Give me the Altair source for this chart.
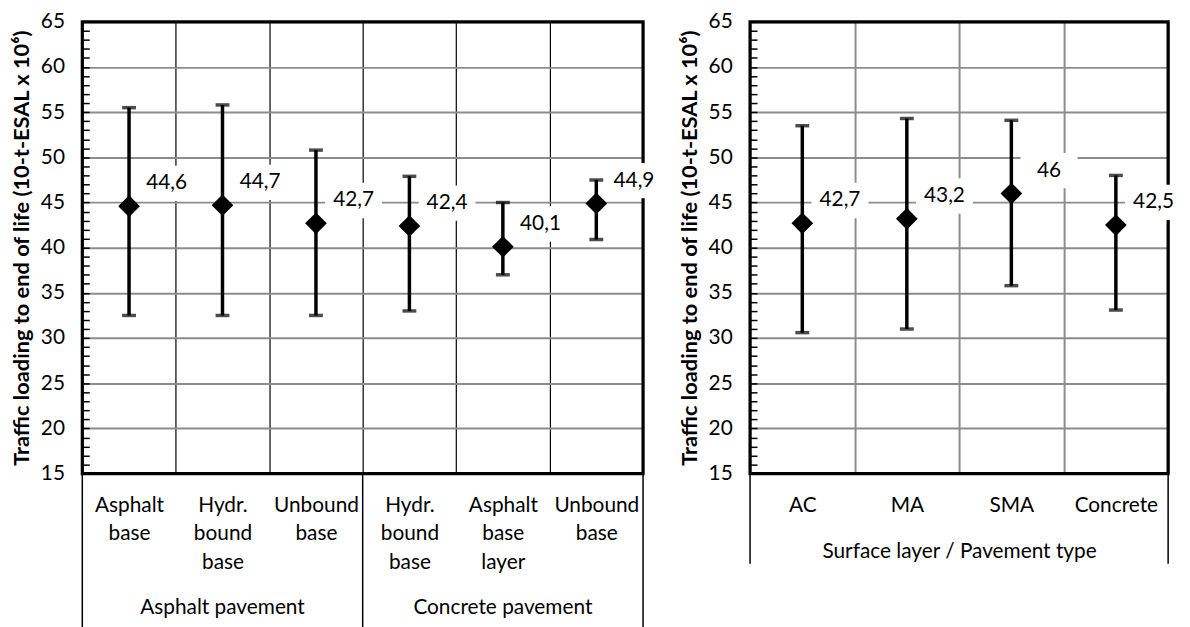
import altair as alt
import pandas as pd

FONT = "Lato"
FS = 21

# ---------------- data ----------------
left_groups = ["Asphalt pavement", "Asphalt pavement", "Asphalt pavement",
               "Concrete pavement", "Concrete pavement", "Concrete pavement"]
left_cats = ["Asphalt|base", "Hydr.|bound|base", "Unbound|base",
             "Hydr.|bound|base", "Asphalt|base|layer", "Unbound|base"]
left_mean = [44.6, 44.7, 42.7, 42.4, 40.1, 44.9]
left_low = [32.5, 32.5, 32.5, 33.0, 37.0, 40.9]
left_high = [55.5, 55.8, 50.8, 47.9, 45.0, 47.5]

right_cats = ["AC", "MA", "SMA", "Concrete"]
right_mean = [42.7, 43.2, 46.0, 42.5]
right_low = [30.6, 31.0, 35.8, 33.1]
right_high = [53.5, 54.3, 54.1, 48.0]

y_title = "Traffic loading to end of life  (10-t-ESAL x 10⁶)"
right_x_title = "Surface layer / Pavement type"
y_ticks = list(range(15, 66, 5))
y_minor = list(range(15, 66))

# ---------------- layout ----------------
H = 456
WL = 566
WR = 422
LABEL_DX = 38
LABEL_DY = -23

left_df = pd.DataFrame({"group": left_groups, "cat": left_cats,
                        "mean": left_mean, "low": left_low, "high": left_high})
left_df["key"] = left_df["group"] + "#" + left_df["cat"]
left_keys = list(left_df["key"])

right_df = pd.DataFrame({"cat": right_cats, "mean": right_mean,
                         "low": right_low, "high": right_high})
right_df["key"] = right_df["cat"]
right_keys = list(right_df["key"])

yscale = alt.Scale(domain=[15, 65], nice=False, zero=False)

main_y_axis = alt.Axis(values=y_ticks, title=y_title, titleFont=FONT, titleFontSize=22,
                       titleFontWeight="bold", titleColor="black", titlePadding=7,
                       labelFont=FONT, labelFontSize=FS, labelColor="black",
                       labelPadding=18, ticks=False, domain=False, grid=True,
                       gridColor="#8c8c8c", gridWidth=2)


def x_enc(keys, axis, band_pos=None):
    kw = {}
    if band_pos is not None:
        kw["bandPosition"] = band_pos
    return alt.X("key:N", scale=alt.Scale(domain=keys, paddingInner=0, paddingOuter=0),
                 axis=axis, **kw)


def panel(df, keys, width, x_axis, sep_keys_start, sep_end_key, sep_len, group_df=None):
    base = alt.Chart(df)
    X = x_enc(keys, x_axis)

    frame = alt.Chart(pd.DataFrame({"f": [0]})).mark_rect(
        fill=None, stroke="black", strokeWidth=3.2).encode(
        x=alt.value(0), x2=alt.value(width), y=alt.value(0), y2=alt.value(H))
    boxes = base.mark_point(shape="M-1,-0.62H1V0.62H-1Z", filled=True, color="white",
                            opacity=1, size=3300, xOffset=LABEL_DX,
                            yOffset=LABEL_DY).encode(
        x=X, y=alt.Y("mean:Q", scale=yscale, axis=main_y_axis))
    bars = base.mark_rule(color="black", strokeWidth=3.5).encode(
        x=X, y=alt.Y("low:Q", scale=yscale, axis=None), y2="high:Q")
    cap_lo = base.mark_tick(color="black", thickness=3.5, size=14).encode(
        x=X, y=alt.Y("low:Q", scale=yscale, axis=None))
    cap_hi = base.mark_tick(color="black", thickness=3.5, size=14).encode(
        x=X, y=alt.Y("high:Q", scale=yscale, axis=None))
    pts = base.mark_point(shape="diamond", filled=True, color="black", opacity=1,
                          size=480).encode(
        x=X, y=alt.Y("mean:Q", scale=yscale, axis=None))
    txt = base.mark_text(font=FONT, fontSize=FS, color="black", dx=LABEL_DX, dy=LABEL_DY,
                         align="center", baseline="middle").transform_calculate(
        lbl="replace(format(datum.mean, '.1~f'), '.', ',')").encode(
        x=X, y=alt.Y("mean:Q", scale=yscale, axis=None), text="lbl:N")
    minor = base.mark_point(opacity=0).encode(
        x=X, y=alt.Y("mean:Q", scale=yscale,
                     axis=alt.Axis(orient="right", offset=-width, values=y_minor,
                                   tickSize=7, tickColor="black", tickWidth=1.5,
                                   labels=False, domain=False, grid=False, title=None)))

    sep_start_df = pd.DataFrame({"key": sep_keys_start})
    sep_end_df = pd.DataFrame({"key": [sep_end_key]})
    sep1 = alt.Chart(sep_start_df).mark_rule(color="black", strokeWidth=1.5).encode(
        x=x_enc(keys, x_axis, 0), y=alt.value(H), y2=alt.value(H + sep_len))
    sep2 = alt.Chart(sep_end_df).mark_rule(color="black", strokeWidth=1.5).encode(
        x=x_enc(keys, x_axis, 1), y=alt.value(H), y2=alt.value(H + sep_len))

    layers = [frame, sep1, sep2, boxes, bars, cap_lo, cap_hi, pts, txt, minor]
    if group_df is not None:
        gl = alt.Chart(group_df).mark_text(font=FONT, fontSize=FS, color="black",
                                           align="center", baseline="middle").encode(
            x=X, y=alt.value(H + 136), text="group:N")
        layers.append(gl)
    return alt.layer(*layers).resolve_axis(y="independent").properties(
        width=width, height=H)


left_x_axis = alt.Axis(title=None,
                       labelExpr="isString(datum.value) ? split(split(datum.value, '#')[1], '|') : ''",
                       labelFont=FONT, labelFontSize=FS, labelLineHeight=29,
                       labelColor="black", labelPadding=21, labelAngle=0,
                       labelOverlap=False, ticks=False, domain=False, grid=True,
                       gridColor="black", gridWidth=1.2, tickBand="extent")
right_x_axis = alt.Axis(title=right_x_title, titleFont=FONT, titleFontSize=FS,
                        titleFontWeight="normal", titleColor="black", titlePadding=26,
                        labelFont=FONT, labelFontSize=FS, labelColor="black",
                        labelPadding=21, labelAngle=0, labelOverlap=False,
                        ticks=False, domain=False, grid=True, gridColor="#8c8c8c",
                        gridWidth=2, tickBand="extent")

# group label rows: middle category of each group is the group's centre
grp_names = []
grp_mid = []
for g in dict.fromkeys(left_groups):
    ks = [k for k, gg in zip(left_keys, left_groups) if gg == g]
    grp_names.append(g)
    grp_mid.append(ks[len(ks) // 2])
group_df = pd.DataFrame({"group": grp_names, "key": grp_mid})
group_starts = [left_keys[left_groups.index(g)] for g in grp_names]

left = panel(left_df, left_keys, WL, left_x_axis, group_starts, left_keys[-1], 160, group_df)
right = panel(right_df, right_keys, WR, right_x_axis, [right_keys[0]], right_keys[-1], 91)

chart = alt.hconcat(left, right, spacing=108, bounds="flush").properties(
    padding={"left": 2, "top": 0, "right": 0, "bottom": 0}
).configure(background="white").configure_view(stroke=None)

chart.save("out.html", embed_options={"renderer": "svg", "actions": False})
